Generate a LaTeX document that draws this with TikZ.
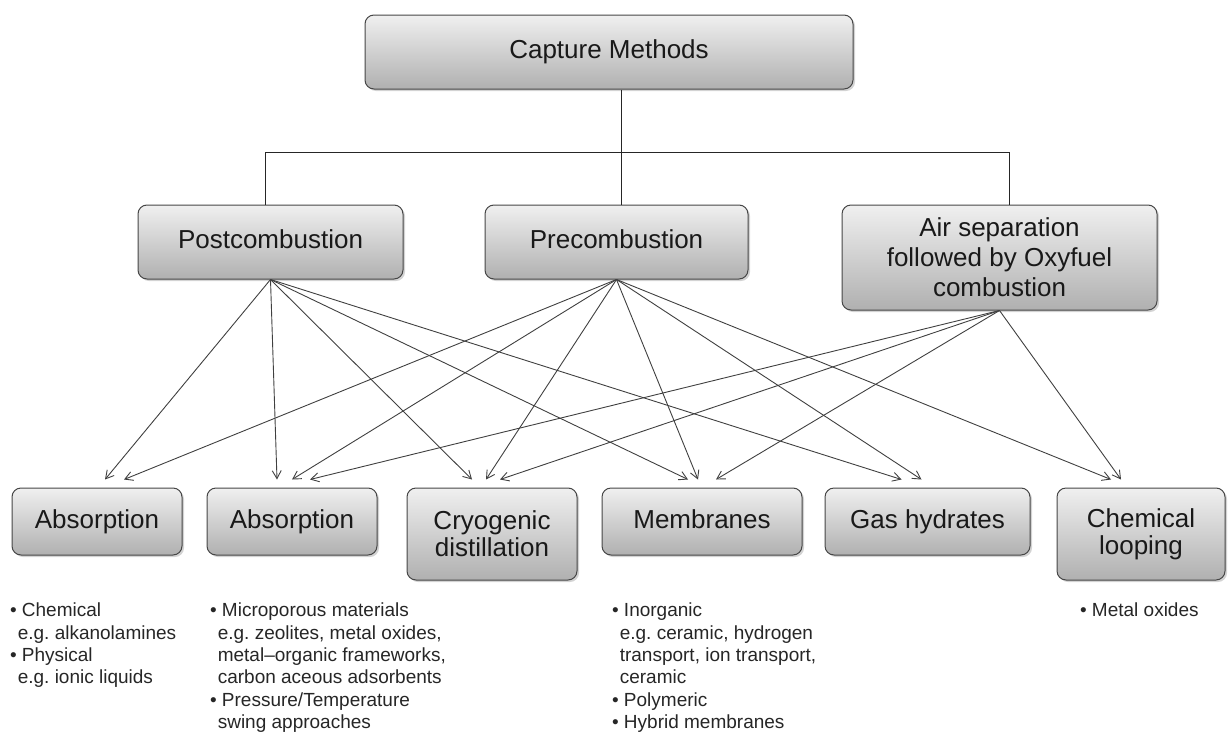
\documentclass[tikz,border=0pt]{standalone}
\usepackage{fontspec}
\setmainfont{Liberation Sans}
\usepackage{tikz}
\usetikzlibrary{arrows.meta,shadows,calc,positioning}
\frenchspacing

\tikzset{
  box/.style={rounded corners=9pt, draw=gray!55!black, line width=1pt,
    top color=gray!12, bottom color=gray!62, text=black!90,
    drop shadow={shadow xshift=2pt, shadow yshift=-2pt, opacity=0.35},
    font=\fontsize{26}{27}\selectfont, align=center, inner sep=0pt},
  onebox/.style={box, text height=18.6pt, text depth=5.5pt},
  tree/.style={draw=black!85, line width=1.6pt},
  arr/.style={draw=black!75, line width=0.9pt, -{Straight Barb[length=8pt,width=9pt]}},
  list/.style={anchor=north west, align=left, inner sep=0pt, text=black!85,
    font=\fontsize{19}{22.3}\selectfont}
}
\newcommand{\itm}{\makebox[0.62em][l]{\textbullet}}
\newcommand{\cnt}{\hspace*{0.4em}}

\begin{document}
\begin{tikzpicture}[x=1pt,y=-1pt]
        \useasboundingbox (0,0) rectangle (1229,747);

        % top level
        \node[onebox, minimum width=488pt, minimum height=74pt] (capture) at (609,52) {Capture Methods};

        % second row
        \node[onebox, minimum width=265pt, minimum height=74pt] (post) at (270.5,242) {Postcombustion};
        \node[onebox, minimum width=263pt, minimum height=74pt] (pre) at (616.5,242) {Precombustion};
        \node[box, minimum width=315pt, minimum height=105pt,
              font=\fontsize{26}{30}\selectfont] (air) at (999.5,257.5)
              {Air separation\\followed by Oxyfuel\\combustion};

        \draw[tree] ([xshift=5pt]pre.north |- capture.south) -- ([xshift=5pt]pre.north);
        \draw[tree] ([xshift=-5pt]post.north) -- ++(0,-52) -| ([xshift=10pt]air.north);

        % third row
        \node[onebox, minimum width=170pt, minimum height=67pt] (absa) at (97,521.5) {Absorption};
        \node[onebox, minimum width=170pt, minimum height=67pt] (absb) at (292,521.5) {Absorption};
        \node[box, minimum width=170pt, minimum height=92pt] (cryo) at (492,534) {Cryogenic\\distillation};
        \node[onebox, minimum width=200pt, minimum height=67pt] (memb) at (702,521.5) {Membranes};
        \node[onebox, minimum width=205pt, minimum height=67pt] (gashyd) at (927.5,521.5) {Gas hydrates};
        \node[box, minimum width=168pt, minimum height=92pt] (chemloop) at (1141,534) {Chemical\\looping};

        % arrows
        \foreach \src/\dst/\dx in {post/absa/8, pre/absa/27,
                                   post/absb/-15, pre/absb/0, air/absb/18,
                                   post/cryo/-20, pre/cryo/-6, air/cryo/8,
                                   post/memb/-14, pre/memb/-4, air/memb/14,
                                   post/gashyd/-26, pre/gashyd/-6,
                                   pre/chemloop/-30, air/chemloop/-20}
          \draw[arr] (\src.south) -- ([xshift=\dx pt, yshift=8pt]\dst.north);

        % lists
        \node[list] (lista) at (10,603) {\itm Chemical\\
          \cnt e.g. alkanolamines\\
          \itm Physical\\
          \cnt e.g. ionic liquids};
        \node[list] (listb) at (210,603) {\itm Microporous materials\\
          \cnt e.g. zeolites, metal oxides,\\
          \cnt metal–organic frameworks,\\
          \cnt carbon aceous adsorbents\\
          \itm Pressure/Temperature\\
          \cnt swing approaches};
        \node[list] (listc) at (612,603) {\itm Inorganic\\
          \cnt e.g. ceramic, hydrogen\\
          \cnt transport, ion transport,\\
          \cnt ceramic\\
          \itm Polymeric\\
          \itm Hybrid membranes};
        \node[list] (listd) at (1080,603) {\itm Metal oxides};

      \end{tikzpicture}
\end{document}
